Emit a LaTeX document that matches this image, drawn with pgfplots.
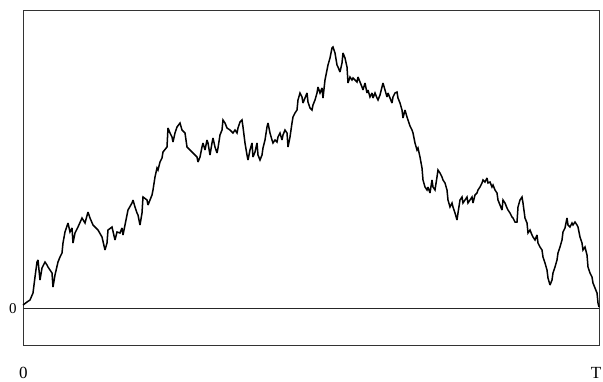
\documentclass[border=0pt]{standalone}
\usepackage{fontspec}
\setmainfont{Liberation Serif}
\usepackage{pgfplots}
\pgfplotsset{compat=1.18}
\begin{document}
\begin{tikzpicture}
\useasboundingbox (-23pt,-36pt) rectangle (580pt,345pt);
\begin{axis}[
  at={(0,0)}, anchor=south west,
  scale only axis, width=576pt, height=335pt,
  xmin=0, xmax=576, ymin=-37, ymax=298,
  axis line style={draw=black!80, line width=0.9pt},
  ticks=none,
  clip=false,
]
% sample path W(t) on [0,T]
\addplot[black, line width=1.5pt, line join=miter, miter limit=3] coordinates {
(0,3)(4,6)(7,8)(10,15)(12,31)(14,46)(15,48)(17,28)(19,40)(22,46)(24,43)(25,41)
(29,35)(30,21)(32,33)(35,46)(37,51)(39,55)(40,65)(42,76)(45,85)(47,76)(49,80)
(50,65)(52,75)(55,81)(59,90)(62,85)(65,96)(67,90)(70,83)(75,78)(79,71)(82,58)
(84,65)(85,78)(89,81)(92,68)(94,76)(97,75)(99,80)(100,73)(103,88)(105,98)
(109,105)(110,108)(112,101)(114,95)(115,93)(117,83)(119,95)(120,111)(124,108)
(125,103)(129,113)(130,118)(132,131)(134,140)(135,138)(137,146)(139,150)
(140,156)(144,161)(145,180)(147,175)(149,171)(150,166)(152,175)(154,181)
(157,185)(159,178)(162,175)(164,161)(167,158)(170,155)(174,151)(175,146)
(177,151)(179,161)(180,165)(182,158)(184,168)(185,165)(187,153)(189,165)
(190,170)(192,161)(194,155)(195,160)(197,173)(199,178)(200,188)(202,185)
(204,180)(207,178)(209,176)(210,175)(212,178)(214,175)(215,180)(217,186)
(219,188)(220,181)(222,165)(224,153)(225,148)(227,158)(229,165)(230,151)
(232,156)(234,165)(235,153)(237,148)(239,153)(240,160)(242,168)(244,181)
(245,185)(247,175)(249,168)(250,165)(252,168)(254,166)(255,171)(257,175)
(259,168)(260,173)(262,178)(264,175)(265,161)(267,171)(269,185)(270,191)
(272,195)(274,198)(275,208)(277,215)(279,211)(280,205)(282,210)(284,215)
(285,206)(287,200)(289,198)(290,203)(292,208)(294,215)(295,221)(297,215)
(299,220)(300,210)(302,228)(304,238)(305,243)(307,250)(309,260)(310,261)
(312,255)(314,243)(315,241)(317,236)(319,245)(320,255)(322,250)(324,241)
(325,225)(327,231)(329,228)(330,230)(332,228)(334,226)(335,231)(337,226)
(339,221)(340,218)(342,225)(344,215)(345,218)(347,211)(349,215)(350,210)
(352,215)(354,210)(355,208)(357,213)(359,221)(360,225)(362,218)(364,211)
(365,215)(367,210)(369,205)(370,211)(372,215)(374,216)(375,210)(377,205)
(379,198)(380,190)(382,198)(384,191)(385,188)(387,182)(389,178)(390,175)
(392,165)(394,158)(395,160)(397,151)(399,140)(400,128)(402,121)(404,118)
(405,121)(407,115)(409,128)(410,121)(412,118)(414,131)(415,138)(417,135)
(419,131)(420,128)(422,125)(424,118)(425,108)(427,101)(429,105)(430,101)
(432,95)(434,88)(435,95)(437,108)(439,111)(440,105)(442,108)(444,111)
(445,105)(447,108)(449,111)(450,105)(452,113)(454,115)(455,118)(457,121)
(459,125)(460,128)(462,126)(464,130)(465,125)(467,126)(469,121)(470,123)
(472,118)(474,115)(475,108)(477,103)(479,98)(480,108)(482,105)(484,100)
(485,98)(487,95)(489,91)(490,90)(492,86)(494,86)(495,101)(497,108)(499,111)
(500,105)(502,90)(504,85)(505,75)(507,78)(509,73)(510,71)(512,68)(514,73)
(515,65)(517,61)(519,58)(520,51)(522,45)(524,38)(525,30)(527,23)(529,28)
(530,35)(532,41)(534,48)(535,55)(537,61)(539,68)(540,76)(542,80)(544,90)
(545,83)(547,81)(549,85)(550,83)(552,86)(554,83)(555,81)(557,71)(559,65)
(560,58)(562,61)(564,53)(565,41)(567,35)(569,31)(570,25)(572,20)(574,15)
(575,5)(576,1)
};
% zero level
\draw[black!85, line width=0.9pt] (axis cs:0,0) -- (axis cs:576,0);
\end{axis}
\node at (-10pt,36pt) {\fontsize{15}{17}\selectfont 0};
\node at (0.5pt,-28pt) {\fontsize{17}{19}\selectfont 0};
\node at (573pt,-28pt) {\fontsize{17}{19}\selectfont T};
\end{tikzpicture}
\end{document}
